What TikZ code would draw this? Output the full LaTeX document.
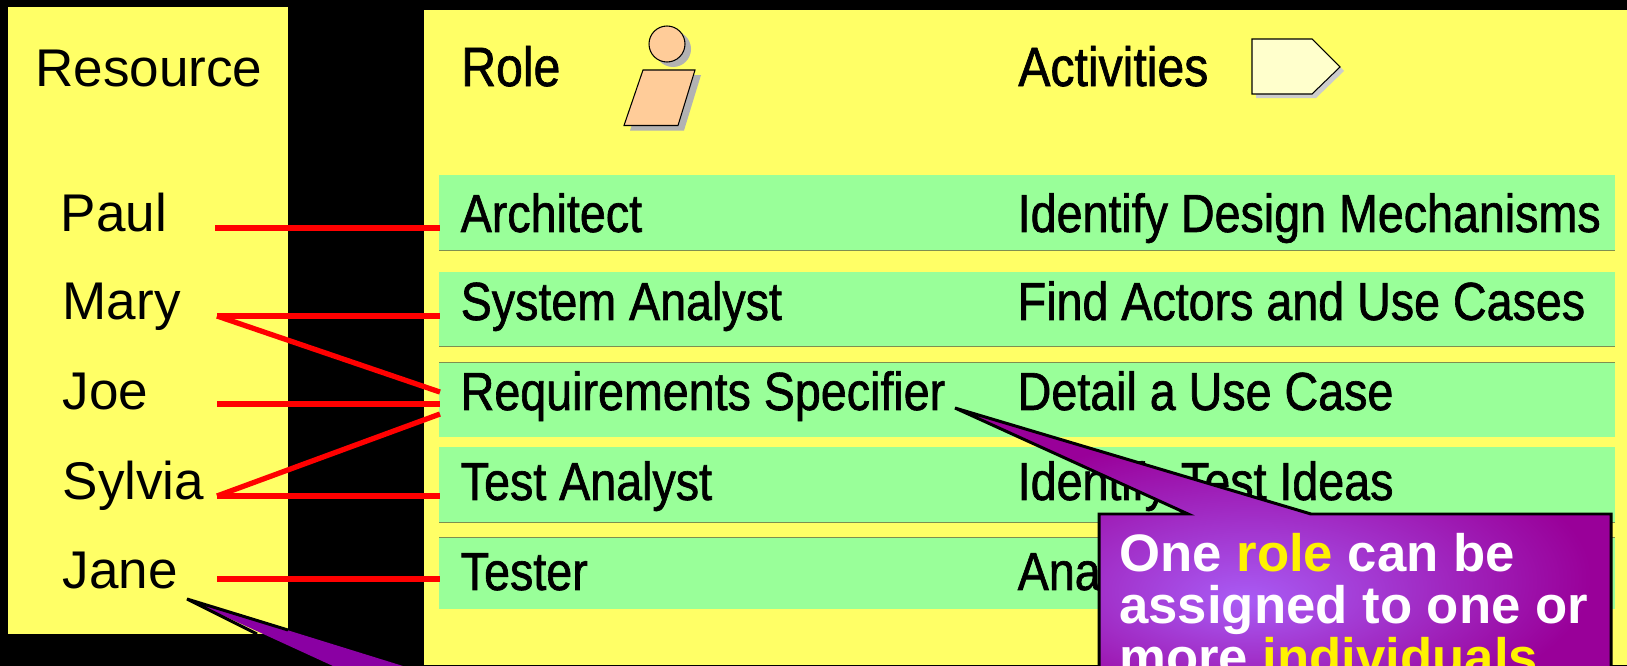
\documentclass[tikz,border=0pt]{standalone}
\usepackage{fontspec}
\setmainfont{Liberation Sans}
\newfontfamily\rolefont[FakeStretch=0.87,FakeBold=1.2]{Liberation Sans}
\usetikzlibrary{calc,positioning}
\definecolor{panelyellow}{HTML}{FFFF66}
\definecolor{rowgreen}{HTML}{99FF99}
\definecolor{rowedge}{HTML}{7F8F50}
\definecolor{peach}{HTML}{FFCC99}
\definecolor{paleyellow}{HTML}{FFFFCC}
\definecolor{notepurple}{HTML}{990099}
\definecolor{noteglow}{HTML}{A95CF5}
\pgfdeclareradialshading{noteshade}{\pgfpoint{-3bp}{-8bp}}{color(0bp)=(noteglow); color(25bp)=(notepurple); color(50bp)=(notepurple)}
\tikzset{
    heading/.style={anchor=base west, inner sep=0pt, font=\fontsize{30.2}{34}\selectfont},
    roleheading/.style={anchor=base west, inner sep=0pt, font=\rolefont\fontsize{31.5}{34}\selectfont},
    person/.style={anchor=east, inner sep=0pt, text width=87.6pt, align=left, text height=22.8pt, text depth=18.3pt, font=\fontsize{30.2}{34}\selectfont},
    rowbar/.style={anchor=north west, fill=rowgreen, inner sep=0pt, minimum width=23.52cm},
    rowline/.style={draw=rowedge, line width=0.4pt},
    rolelabel/.style={anchor=west, inner ysep=0pt, inner xsep=11.6pt, text height=22.8pt, text depth=18.3pt, font=\rolefont\fontsize{30.5}{34}\selectfont},
    assign/.style={draw=red, line width=3pt},
    note/.style={draw=black, line width=1.7pt, shading=noteshade},
    notetext/.style={anchor=north west, inner sep=0pt, align=left, text=white, font=\bfseries\fontsize{30}{29.6}\selectfont},
    figure/.style={draw=black, line width=0.6pt, fill=peach}
}
\begin{document}
\begin{tikzpicture}[x=0.02cm,y=-0.02cm]

    \clip (0,0) rectangle (1627,666);
    \fill[black] (0,0) rectangle (1627,666);
    \fill[panelyellow] (8,7) rectangle (288,634);
    \fill[panelyellow] (424,10) rectangle (1627,665);

    \node[heading] (resource) at (35,86) {Resource};
    \node[roleheading] (role) at (461,86) {Role};
    \node[roleheading] (activities) at (1018,86) {Activities};

    \fill[black!30] (673,49) circle (18);
    \fill[black!30] (649,75) -- (701,75) -- (684,130.5) -- (630,130.5) -- cycle;
    \draw[figure] (667,44) circle (18);
    \draw[figure] (643,70) -- (695,70) -- (678,125.5) -- (624,125.5) -- cycle;

    \fill[black!20] (1256,43) -- (1316,43) -- (1344,71) -- (1316,98) -- (1256,98) -- cycle;
    \draw[draw=black, line width=0.6pt, fill=paleyellow] (1252,39) -- (1312,39) -- (1340,67) -- (1312,94) -- (1252,94) -- cycle;

    \node[rowbar, minimum height=1.5cm] (bararchitect) at (439,175) {};
    \node[rowbar, minimum height=1.48cm] (baranalyst) at (439,272) {};
    \node[rowbar, minimum height=1.5cm] (barspecifier) at (439,362) {};
    \node[rowbar, minimum height=1.5cm] (bartestanalyst) at (439,447) {};
    \node[rowbar, minimum height=1.44cm] (bartester) at (439,537) {};

    \draw[rowline] (bararchitect.south west) -- (bararchitect.south east);
    \draw[rowline] (baranalyst.south west) -- (baranalyst.south east);
    \draw[rowline] (barspecifier.north west) -- (barspecifier.north east);
    \draw[rowline] (bartestanalyst.south west) -- (bartestanalyst.south east);
    \draw[rowline] (bartester.north west) -- (bartester.north east);

    \node[rolelabel] (architect) at (440,228) {Architect};
    \node[rolelabel] (analyst) at (440,316) {System Analyst};
    \node[rolelabel, text depth=16pt] (specifier) at (440,404) {Requirements Specifier};
    \node[rolelabel] (testanalyst) at (440,496) {Test Analyst};
    \node[rolelabel] (tester) at (440,586) {Tester};

    \node[rolelabel] (mechanisms) at (997,228) {Identify Design Mechanisms};
    \node[rolelabel] (usecases) at (997,316) {Find Actors and Use Cases};
    \node[rolelabel, text depth=16pt] (detail) at (997,404) {Detail a Use Case};
    \node[rolelabel] (ideas) at (997,496) {Identify Test Ideas};
    \node[rolelabel] (analyze) at (997,586) {Analyze};

    \node[person] (paul) at (215,228) {Paul};
    \node[person] (mary) at (217,316) {Mary};
    \node[person, text depth=16pt] (joe) at (217,404) {Joe};
    \node[person] (sylvia) at (217,496) {Sylvia};
    \node[person, text depth=11.5pt] (jane) at (217,579) {Jane};

    \draw[assign] (paul.east) -- (architect.west);
    \draw[assign] (mary.east) -- (analyst.west);
    \draw[assign] (mary.east) -- ([yshift=6.8pt]specifier.west);
    \draw[assign] (joe.east) -- (specifier.west);
    \draw[assign] (sylvia.east) -- ([yshift=-5.7pt]specifier.west);
    \draw[assign] (sylvia.east) -- (testanalyst.west);
    \draw[assign] (jane.east) -- (jane.east -| tester.west);

    \fill[notepurple!90!blue] (187,599) -- (403,666) -- (333,666) -- cycle;
    \draw[black, line width=1.7pt] (288,630) -- (187,599) -- (257,634);

    \draw[note] (955,408) -- (1311,514) -- (1611,514) -- (1611,700) -- (1099,700) -- (1099,514) -- (1188,514) -- cycle;
    \node[notetext] (rolenote) at (1119,533) {One \textcolor{yellow}{role} can be\\assigned to one or\\more \textcolor{yellow}{individuals}};

\end{tikzpicture}
\end{document}
